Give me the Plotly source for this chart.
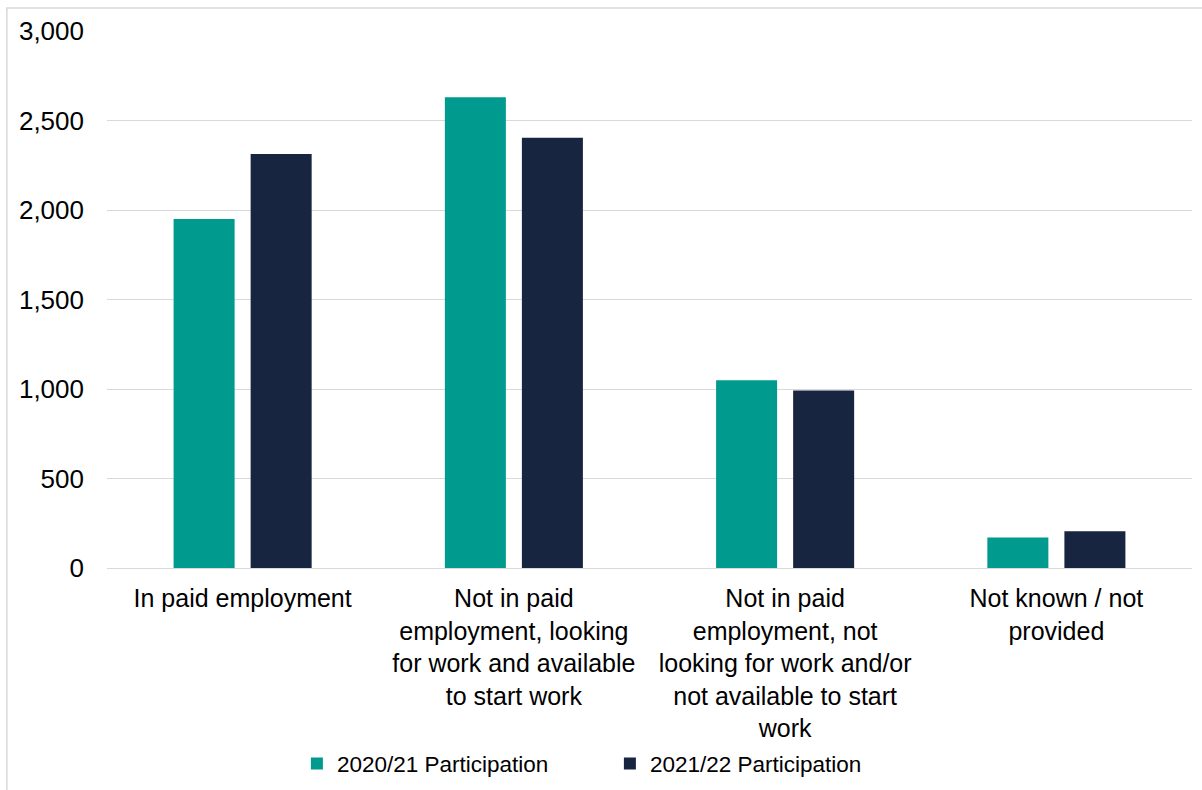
import plotly.graph_objects as go

categories = [
    "In paid employment",
    "Not in paid<br>employment, looking<br>for work and available<br>to start work",
    "Not in paid<br>employment, not<br>looking for work and/or<br>not available to start<br>work",
    "Not known / not<br>provided",
]
series_2020_21 = [1950, 2630, 1049, 171]
series_2021_22 = [2313, 2404, 991, 205]
series_names = ["2020/21 Participation", "2021/22 Participation"]
y_ticks = [0, 500, 1000, 1500, 2000, 2500, 3000]
y_tick_labels = ["0", "500", "1,000", "1,500", "2,000", "2,500", "3,000"]

TEAL = "#009A8E"
NAVY = "#172540"
FONT = "Liberation Sans, Arial, sans-serif"

fig = go.Figure()
fig.add_trace(go.Bar(x=categories, y=series_2020_21, name=series_names[0],
                     marker=dict(color=TEAL, line=dict(width=0))))
fig.add_trace(go.Bar(x=categories, y=series_2021_22, name=series_names[1],
                     marker=dict(color=NAVY, line=dict(width=0))))

fig.update_layout(
    width=1202, height=790,
    margin=dict(l=107, r=10, t=31, b=222, autoexpand=False),
    paper_bgcolor="white", plot_bgcolor="white",
    barmode="group", bargap=0.432, bargroupgap=0.208,
    font=dict(family=FONT, size=25, color="#000000"),
    showlegend=True,
    legend=dict(orientation="h", xref="container", yref="container",
                x=0.247, xanchor="left", y=0.033, yanchor="middle",
                font=dict(size=22.5), entrywidth=268, entrywidthmode="pixels",
                tracegroupgap=0),
    xaxis=dict(showgrid=False, showline=False, ticks="", tickangle=0,
               tickfont=dict(size=25), ticklabelstandoff=13, automargin=False),
    yaxis=dict(range=[0, 3000], tickvals=y_ticks, ticktext=y_tick_labels,
               showgrid=True, gridcolor="#d9d9d9", gridwidth=1,
               zeroline=True, zerolinecolor="#d9d9d9", zerolinewidth=1,
               showline=False, ticks="", ticklabelstandoff=22,
               tickfont=dict(size=26), automargin=False),
    shapes=[dict(type="rect", xref="paper", yref="paper",
                 x0=-0.0923, x1=1.2, y0=-0.6, y1=1.0428,
                 line=dict(color="#d9d9d9", width=1.5), fillcolor="rgba(0,0,0,0)",
                 layer="below")],
)

fig.write_html("out.html")
